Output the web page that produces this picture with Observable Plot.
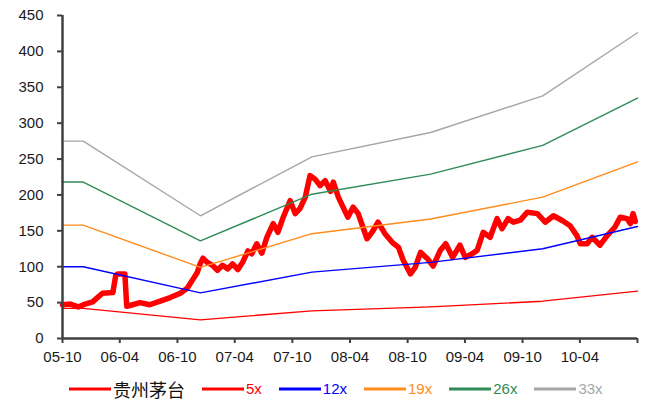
<!DOCTYPE html>
<html>
<head>
<meta charset="utf-8">
<script src="https://cdn.jsdelivr.net/npm/d3@7"></script>
<script src="https://cdn.jsdelivr.net/npm/@observablehq/plot@0.6"></script>
<style>
  body { margin: 0; background: #fff; overflow: hidden; }
  #chart { width: 645px; height: 375px; }
  .legend { display: flex; align-items: center; height: 26px; padding-top: 1px; padding-left: 69px; gap: 17px;
            font-family: "Liberation Sans", Arial, sans-serif; font-size: 15px; line-height: 20px; }
  .item { display: flex; align-items: center; gap: 2px; }
  .cjk { font-family: "Noto Sans CJK SC", sans-serif; font-size: 18px; line-height: 20px; color: #111; }
</style>
</head>
<body>
<div id="chart"></div>
<script>
// ---- data ----
const priceDates = [
  "2005-10-01","2005-10-26","2005-11-20","2005-12-12","2006-01-05","2006-01-20","2006-02-05","2006-03-10",
  "2006-03-19","2006-03-25","2006-04-17","2006-04-23","2006-05-03","2006-06-04","2006-07-05","2006-08-07",
  "2006-09-08","2006-10-10","2006-11-01","2006-11-17","2006-12-03","2006-12-12","2006-12-21","2007-01-04",
  "2007-01-20","2007-02-05","2007-02-21","2007-03-10","2007-03-25","2007-04-11","2007-04-27","2007-05-13",
  "2007-05-25","2007-06-10","2007-06-26","2007-07-12","2007-08-01","2007-08-16","2007-09-02","2007-09-24",
  "2007-10-10","2007-10-25","2007-11-11","2007-11-26","2007-12-12","2007-12-28","2008-01-13","2008-01-30",
  "2008-02-08","2008-02-24","2008-03-10","2008-03-25","2008-04-11","2008-04-27","2008-05-12","2008-05-25",
  "2008-06-10","2008-06-29","2008-07-21","2008-08-13","2008-09-02","2008-09-17","2008-10-10","2008-10-25",
  "2008-11-11","2008-12-03","2008-12-21","2009-01-13","2009-01-30","2009-02-21","2009-03-16","2009-04-02",
  "2009-04-24","2009-05-10","2009-05-29","2009-06-20","2009-07-12","2009-07-28","2009-08-16","2009-09-02",
  "2009-09-24","2009-10-16","2009-11-17","2009-12-12","2010-01-07","2010-02-05","2010-03-01","2010-03-23",
  "2010-04-02","2010-04-24","2010-05-10","2010-06-04","2010-06-26","2010-07-21","2010-08-07","2010-08-29",
  "2010-09-08","2010-09-17","2010-09-24"
];
const priceValues = [
  47, 48, 44, 48, 51, 57, 63, 64,
  88, 90, 90, 45, 46, 50, 47, 52,
  57, 63, 70, 81, 92, 104, 112, 106,
  102, 95, 102, 97, 104, 96, 107, 122,
  118, 132, 119, 141, 160, 148, 169, 192,
  174, 181, 197, 227, 222, 213, 220, 205,
  218, 197, 183, 169, 183, 174, 155, 139,
  148, 162, 146, 134, 127, 109, 90, 99,
  120, 111, 101, 123, 132, 113, 130, 113,
  118, 123, 148, 141, 167, 153, 167, 162,
  165, 176, 174, 162, 171, 164, 157, 143,
  132, 132, 141, 130, 143, 155, 169, 167,
  160, 174, 163
];
const bandDates = ["2005-10-01","2005-12-06","2006-12-13","2007-12-02","2008-12-13","2009-12-04","2010-10-01"];
const pe5  = [42, 42, 26, 38.5, 44, 52, 66];
const pe12 = [100, 100, 63.5, 92.5, 106, 125, 156];
const pe19 = [158, 158, 99, 146, 166.5, 197, 246];
const pe26 = [218, 218, 136, 201, 229, 269, 335];
const pe33 = [275, 275, 171, 253, 287, 338, 426];
const seriesNames = ["贵州茅台", "5x", "12x", "19x", "26x", "33x"];
const seriesColors = ["#FF0000", "#FF0000", "#0000FF", "#FF8C1A", "#2E8B57", "#A6A6A6"];
const xTickDates = ["2005-10-01","2006-04-01","2006-10-01","2007-04-01","2007-10-01","2008-04-01",
                    "2008-10-01","2009-04-01","2009-10-01","2010-04-01","2010-10-01"];
const xTickLabels = ["05-10","06-04","06-10","07-04","07-10","08-04","08-10","09-04","09-10","10-04"];
const yTicks = [0, 50, 100, 150, 200, 250, 300, 350, 400, 450];

// ---- build ----
const parse = d3.utcParse("%Y-%m-%d");
const price = priceDates.map((d, i) => ({date: parse(d), value: priceValues[i]}));
const bands = [pe5, pe12, pe19, pe26, pe33].map((arr, k) =>
  bandDates.map((d, i) => ({date: parse(d), value: arr[i], k: k + 1})));
const xTicks = xTickDates.map(parse);
const labelMap = new Map(xTicks.map((d, i) => [+d, xTickLabels[i] ?? ""]));

const axisColor = "#404040";
const chart = Plot.plot({
  width: 645,
  height: 375,
  marginLeft: 62,
  marginRight: 8,
  marginTop: 15,
  marginBottom: 37,
  style: {fontFamily: "'Liberation Sans', Arial, sans-serif", fontSize: "15px", background: "#fff"},
  x: {type: "utc", domain: [xTicks[0], xTicks[xTicks.length - 1]]},
  y: {domain: [0, 450]},
  marks: [
    Plot.line(price, {x: "date", y: "value", stroke: seriesColors[0], strokeWidth: 5.5, strokeLinejoin: "round", strokeLinecap: "round"}),
    ...bands.map(b => Plot.line(b, {x: "date", y: "value", stroke: seriesColors[b[0].k], strokeWidth: 1.4})),
    Plot.axisY({ticks: yTicks, label: null, tickSize: 5, tickPadding: 14, stroke: axisColor, strokeWidth: 2, fill: "#1a1a1a", fontSize: 15}),
    Plot.axisX({ticks: xTicks, label: null, tickFormat: d => labelMap.get(+d) ?? "", tickSize: 5, tickPadding: 8, stroke: axisColor, strokeWidth: 2, fill: "#1a1a1a", fontSize: 15}),
    Plot.ruleX([xTicks[0]], {stroke: axisColor, strokeWidth: 2.5}),
    Plot.ruleY([0], {stroke: axisColor, strokeWidth: 2.5})
  ]
});
document.getElementById("chart").appendChild(chart);

// legend
const legend = document.createElement("div");
legend.className = "legend";
seriesNames.forEach((name, i) => {
  const item = document.createElement("div");
  item.className = "item";
  item.innerHTML = `<svg width="42" height="6"><line x1="0" y1="3" x2="42" y2="3" stroke="${seriesColors[i]}" stroke-width="3"/></svg>`;
  const t = document.createElement("span");
  t.textContent = name;
  if (i === 0) t.className = "cjk"; else t.style.color = seriesColors[i];
  item.appendChild(t);
  legend.appendChild(item);
});
document.body.appendChild(legend);
</script>
</body>
</html>
